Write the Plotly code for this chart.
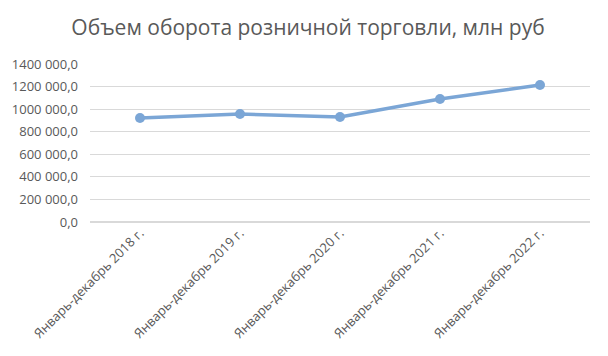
import plotly.graph_objects as go

categories = ["Январь-декабрь 2018 г.", "Январь-декабрь 2019 г.", "Январь-декабрь 2020 г.",
              "Январь-декабрь 2021 г.", "Январь-декабрь 2022 г."]
values = [921000, 957000, 930000, 1090000, 1214000]
tick_vals = [0, 200000, 400000, 600000, 800000, 1000000, 1200000, 1400000]
tick_text = ["0,0", "200 000,0", "400 000,0", "600 000,0", "800 000,0",
             "1000 000,0", "1200 000,0", "1400 000,0"]

color = "#7BA6D6"
fig = go.Figure(go.Scatter(
    x=categories, y=values, mode="lines+markers",
    line=dict(color=color, width=3.5),
    marker=dict(color=color, size=10),
))
# page body has an 8px default margin; figure sized to fit the 608x356 window
fig.update_layout(
    width=600, height=348,
    margin=dict(l=82, r=18, t=56, b=134, autoexpand=False),
    paper_bgcolor="white", plot_bgcolor="white",
    font=dict(family="Open Sans, sans-serif", color="#595959"),
    title=dict(text="Объем оборота розничной торговли, млн руб", x=0.5, xanchor="center",
               yref="container", y=1 - 20 / 348, yanchor="middle",
               font=dict(size=21, color="#595959")),
    showlegend=False,
)
fig.update_xaxes(type="category", range=[-0.5, 4.5], tickangle=-45, tickfont=dict(size=13),
                 showgrid=False, showline=False, ticks="", automargin=False)
fig.update_yaxes(range=[0, 1400000], tickvals=tick_vals, ticktext=tick_text,
                 tickfont=dict(size=13), gridcolor="#D9D9D9", gridwidth=1,
                 zeroline=True, zerolinecolor="#D9D9D9", showline=False, ticks="",
                 ticklabelstandoff=11, automargin=False)
fig.write_html("out.html")
